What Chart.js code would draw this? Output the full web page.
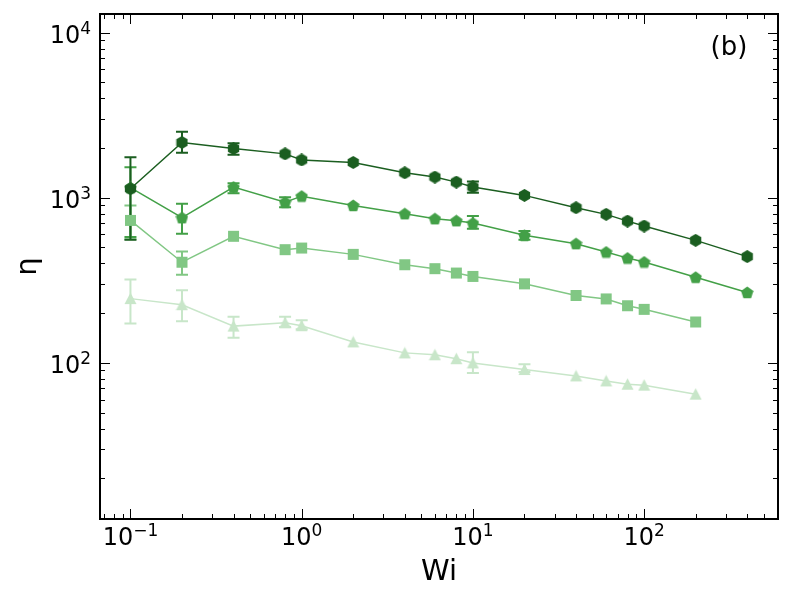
<!DOCTYPE html>
<html>
<head>
<meta charset="utf-8">
<script src="https://cdn.jsdelivr.net/npm/chart.js@4"></script>
<style>
  body { margin: 0; background: #fff; }
  #wrap { width: 792px; height: 600px; }
</style>
</head>
<body>
<div id="wrap"><canvas id="etaChart" width="792" height="600"></canvas></div>
<script>
// ─── DATA ─────────────────────────────────────────────────────────
const wi = [0.1, 0.2, 0.4, 0.8, 1, 2, 4, 6, 8, 10, 20, 40, 60, 80, 100, 200, 400];

// hexagons (darkest)
const etaHex = [1134, 2160, 1985, 1843, 1693, 1635, 1416, 1333, 1243, 1162, 1033, 870, 793, 722, 674, 552, 440];
const hexLo = [557, 1871, 1820, null, null, null, null, null, null, 1072, null, null, null, null, null, null, null];
const hexHi = [1758, 2507, 2140, null, null, null, null, null, null, 1254, null, null, null, null, null, null, null];

// pentagons
const etaPent = [1150, 757, 1159, 940, 1022, 898, 800, 746, 726, 702, 592, 527, 469, 431, 408, 330, 267];
const pentLo = [578, 606, 1066, 877, null, null, null, null, null, 650, 557, null, null, null, null, null, null];
const pentHi = [1531, 920, 1225, 1008, null, null, null, null, null, 774, 628, null, null, null, null, null, null];

// squares (no point at Wi = 400)
const etaSq = [729, 407, 584, 485, 496, 454, 393, 372, 350, 334, 301, 256, 244, 222, 211, 177];
const sqLo = [560, 342, null, null, null, null, null, null, null, null, null, null, null, null, null, null];
const sqHi = [898, 473, null, null, null, null, null, null, null, null, null, null, null, null, null, null];

// triangles (lightest, no point at Wi = 400)
const etaTri = [245, 225, 167, 175, 168, 134, 115, 112, 106, 100, 91.2, 83.4, 77.8, 74.3, 73.3, 64.7];
const triLo = [173, 179, 142, 165, 160, null, null, null, null, 87, 88, null, null, null, null, null];
const triHi = [320, 275, 190, 190, 181, null, null, null, null, 116, 98, null, null, null, null, null];

const xTicks = [-1, 0, 1, 2];   // exponents of the labelled x decades
const yTicks = [2, 3, 4];       // exponents of the labelled y decades

// ─── MARKERS ──────────────────────────────────────────────────────
function marker(shape, color, size) {
  const c = document.createElement("canvas");
  c.width = size;
  c.height = size;
  const g = c.getContext("2d");
  const r = size / 2;
  g.fillStyle = color;
  g.beginPath();
  if (shape === "hex" || shape === "pent") {
    const n = shape === "hex" ? 6 : 5;
    for (let k = 0; k < n; k++) {
      const a = -Math.PI / 2 + (k * 2 * Math.PI) / n;
      const px = r + r * Math.cos(a);
      const py = r + r * Math.sin(a) + (shape === "pent" ? 0.6 : 0);
      k === 0 ? g.moveTo(px, py) : g.lineTo(px, py);
    }
  } else if (shape === "square") {
    g.rect(1, 1, size - 2, size - 2);
  } else {
    g.moveTo(r, 0.5);
    g.lineTo(size - 0.5, size - 1);
    g.lineTo(0.5, size - 1);
  }
  g.closePath();
  g.fill();
  return c;
}

function series(ys, color, shape, lo, hi) {
  return {
    data: ys.map((y, i) => ({ x: wi[i], y })),
    borderColor: color,
    backgroundColor: color,
    borderWidth: 1.5,
    pointStyle: marker(shape, color, 13),
    pointRadius: 6,
    tension: 0,
    fill: false,
    errLo: lo,
    errHi: hi,
  };
}

// ─── ERROR BARS ───────────────────────────────────────────────────
const errorBars = {
  id: "errorBars",
  beforeDatasetsDraw(chart) {
    const ctx = chart.ctx;
    const xs = chart.scales.x;
    const ys = chart.scales.y;
    ctx.save();
    for (let d = chart.data.datasets.length - 1; d >= 0; d--) {
      const ds = chart.data.datasets[d];
      ctx.strokeStyle = ds.borderColor;
      ctx.lineWidth = 2;
      ds.data.forEach((p, i) => {
        if (ds.errLo[i] == null) return;
        const px = xs.getPixelForValue(p.x);
        const top = ys.getPixelForValue(ds.errHi[i]);
        const bot = ys.getPixelForValue(ds.errLo[i]);
        ctx.beginPath();
        ctx.moveTo(px, top);
        ctx.lineTo(px, bot);
        ctx.moveTo(px - 6, top);
        ctx.lineTo(px + 6, top);
        ctx.moveTo(px - 6, bot);
        ctx.lineTo(px + 6, bot);
        ctx.stroke();
      });
    }
    ctx.restore();
  },
};

// ─── FRAME, INWARD TICKS, LABELS ──────────────────────────────────
function powLabel(ctx, exp, x, y, align) {
  const base = "10";
  const sup = exp < 0 ? "\u2212" + Math.abs(exp) : String(exp);
  ctx.font = "24px 'DejaVu Sans'";
  const wb = ctx.measureText(base).width;
  ctx.font = "17px 'DejaVu Sans'";
  const ws = ctx.measureText(sup).width;
  const start = align === "center" ? x - (wb + ws) / 2 : x - wb - ws;
  ctx.textAlign = "left";
  ctx.font = "24px 'DejaVu Sans'";
  ctx.fillText(base, start, y);
  ctx.font = "17px 'DejaVu Sans'";
  ctx.fillText(sup, start + wb, y - 9);
}

const axesFrame = {
  id: "axesFrame",
  afterDraw(chart) {
    const ctx = chart.ctx;
    const a = chart.chartArea;
    const xs = chart.scales.x;
    const ys = chart.scales.y;
    ctx.save();
    ctx.strokeStyle = "#000";
    ctx.fillStyle = "#000";

    ctx.lineWidth = 1;
    for (let k = -2; k <= 4; k++) {
      for (let m = 1; m <= 9; m++) {
        const v = m * Math.pow(10, k);
        const len = m === 1 ? 10 : 5;
        if (v >= xs.min && v <= xs.max) {
          const px = Math.round(xs.getPixelForValue(v)) + 0.5;
          ctx.beginPath();
          ctx.moveTo(px, a.bottom);
          ctx.lineTo(px, a.bottom - len);
          ctx.moveTo(px, a.top);
          ctx.lineTo(px, a.top + len);
          ctx.stroke();
        }
      }
    }
    for (let k = 0; k <= 5; k++) {
      for (let m = 1; m <= 9; m++) {
        const v = m * Math.pow(10, k);
        const len = m === 1 ? 10 : 5;
        if (v >= ys.min && v <= ys.max) {
          const py = Math.round(ys.getPixelForValue(v)) + 0.5;
          ctx.beginPath();
          ctx.moveTo(a.left, py);
          ctx.lineTo(a.left + len, py);
          ctx.moveTo(a.right, py);
          ctx.lineTo(a.right - len, py);
          ctx.stroke();
        }
      }
    }

    ctx.lineWidth = 2;
    ctx.strokeRect(a.left, a.top, a.right - a.left, a.bottom - a.top);

    ctx.textBaseline = "alphabetic";
    xTicks.forEach((e) => powLabel(ctx, e, xs.getPixelForValue(Math.pow(10, e)), a.bottom + 26, "center"));
    yTicks.forEach((e) => powLabel(ctx, e, a.left - 9, ys.getPixelForValue(Math.pow(10, e)) + 10, "right"));

    ctx.font = "29px 'DejaVu Sans'";
    ctx.textAlign = "center";
    ctx.fillText("Wi", (a.left + a.right) / 2, 580);

    ctx.save();
    ctx.translate(36, (a.top + a.bottom) / 2);
    ctx.rotate(-Math.PI / 2);
    ctx.fillText("\u03b7", 0, 0);
    ctx.restore();

    ctx.font = "26px 'DejaVu Sans'";
    ctx.fillText("(b)", 729, 55);
    ctx.restore();
  },
};

// ─── CHART ────────────────────────────────────────────────────────
new Chart(document.getElementById("etaChart").getContext("2d"), {
  type: "line",
  data: {
    datasets: [
      series(etaHex, "#1b5e20", "hex", hexLo, hexHi),
      series(etaPent, "#43a047", "pent", pentLo, pentHi),
      series(etaSq, "#81c784", "square", sqLo, sqHi),
      series(etaTri, "#c8e6c9", "tri", triLo, triHi),
    ],
  },
  options: {
    responsive: false,
    animation: false,
    layout: { padding: { left: 100, right: 14, top: 14, bottom: 81 } },
    plugins: { legend: { display: false }, tooltip: { enabled: false } },
    scales: {
      x: { type: "logarithmic", min: 0.0664, max: 605, display: false },
      y: { type: "logarithmic", min: 11.35, max: 12950, display: false },
    },
  },
  plugins: [errorBars, axesFrame],
});
</script>
</body>
</html>
